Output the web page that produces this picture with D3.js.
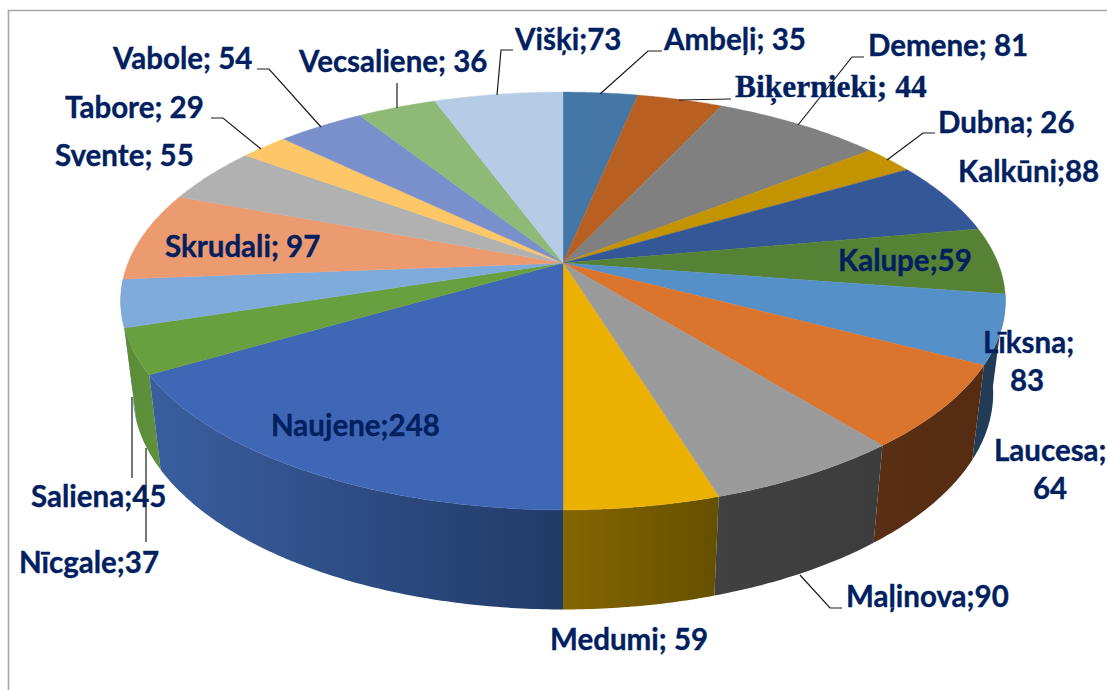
<!DOCTYPE html>
<html><head><meta charset="utf-8">
<style>html,body{margin:0;padding:0;background:#fff;overflow:hidden}svg{display:block}</style>
<script src="https://cdnjs.cloudflare.com/ajax/libs/d3/7.8.5/d3.min.js"></script>
</head><body>
<svg id="c" width="1107" height="690"></svg>
<script>
const names = ["Ambeļi","Biķernieki","Demene","Dubna","Kalkūni","Kalupe","Līksna","Laucesa","Maļinova","Medumi","Naujene","Nīcgale","Saliena","Skrudali","Svente","Tabore","Vabole","Vecsaliene","Višķi"];
// Numbers printed on the labels.
const printedValues = [35,44,81,26,88,59,83,64,90,59,248,37,45,97,55,29,54,36,73];
// The drawn slices do not follow the printed numbers: sizes, in degrees.
const sliceDegrees = [11.7,13.4,26.6,8,20.3,18.6,19,23.3,21.9,17.2,59.8,12.5,13.2,24.8,15.8,7.6,13.7,12.4,20.2];
const topColors = ["#4577a6","#b86022","#808080","#c49300","#345797","#568235","#5590c8","#db742c","#9b9b9b","#ebb100","#3f67b6","#68a040","#7fabdb","#ec9a70","#b1b1b1","#fdc666","#7a90cd","#8eb976","#b5cbe6"];
const wallFrom = {6:"#223c55",7:"#5a2f13",8:"#414141",9:"#856600",10:"#3a5f9f",11:"#5b8c38",12:"#6f97c4"};
const wallTo   = {6:"#223c55",7:"#552c12",8:"#3c3c3c",9:"#655000",10:"#213a68",11:"#5f903a",12:"#6f97c4"};

// Label layout: index of the slice, separator, x, baseline, anchor, family
const sep = (i,s)=>names[i]+s+printedValues[i];
const labelLayout = [
 [sep(0,"; "),664,50],[sep(1,"; "),735,97,"start","serif"],[sep(2,"; "),868,56],[sep(3,"; "),938,133],
 [sep(4,";"),958,182],[sep(5,";"),838,271],[names[6]+";",983,353],[""+printedValues[6],1027,391,"middle"],[names[7]+";",994,461],[""+printedValues[7],1050,499,"middle"],
 [sep(8,";"),846,607],[sep(9,"; "),550,650],[sep(10,";"),271,436],[sep(11,";"),19,573],[sep(12,";"),31,507],
 [sep(13,"; "),165,257],[sep(14,"; "),55,166],[sep(15,"; "),65,118],[sep(16,"; "),113,69],[sep(17,"; "),299,72],[sep(18,";"),515,50]];
const leaderLayout = [
 [[257,69],[269,69],[321,127]],[[211,118],[223,118],[261,149]],[[513,50],[501,50],[497,95]],[[397,83],[397,108]],
 [[662,51],[648,51],[600,94]],[[731,99],[679,100]],[[864,57],[852,57],[798,125]],[[935,133],[923,133],[887,160]],
 [[132,397],[132,478]],[[146,448],[146,542]],[[842,608],[830,608],[800,575]]];

// Perspective projection of the pie disc: top face and bottom face
const persp = 0.1818;
const topFace    = {cy:263, sx:435, sy:202};
const bottomFace = {cy:354, sx:423, sy:209};
const cx = 563;
function project(face, a){
  const u = Math.sin(a), v = -Math.cos(a), w = 1 - persp*v;
  return [cx + face.sx*u/w, face.cy + face.sy*v/w];
}
function arcPts(face,a0,a1){
  const n = Math.max(2,Math.ceil((a1-a0)/0.01));
  return d3.range(n+1).map(i=>project(face,a0+(a1-a0)*i/n));
}
const line = d3.line();
const svg = d3.select("#c");
const defs = svg.append("defs");
const arcs = d3.pie().sort(null).value(d=>d)(sliceDegrees);

// frame
svg.append("path").attr("d","M8.5,690V10.5H1107").attr("fill","none").attr("stroke","#a6a6a6").attr("stroke-width",1.6);

// side walls (front half only)
const visible = [12,6,7,8,9,11,10];
visible.forEach(i=>{
  const g = defs.append("linearGradient").attr("id","w"+i);
  g.append("stop").attr("offset",0).attr("stop-color",wallFrom[i]);
  g.append("stop").attr("offset",1).attr("stop-color",wallTo[i]);
  const d = arcs[i];
  const pts = arcPts(topFace,d.startAngle,d.endAngle).concat(arcPts(bottomFace,d.startAngle,d.endAngle).reverse());
  svg.append("path").attr("d",line(pts)+"Z").attr("fill",`url(#w${i})`);
});

// top face
arcs.forEach((d,i)=>{
  const pts = [[cx,topFace.cy]].concat(arcPts(topFace,d.startAngle,d.endAngle));
  svg.append("path").attr("d",line(pts)+"Z").attr("fill",topColors[i]).attr("stroke",topColors[i]).attr("stroke-width",0.4);
});

// leader lines
svg.append("g").attr("fill","none").attr("stroke","#1a1a1a").attr("stroke-width",1.2)
  .selectAll("path").data(leaderLayout).join("path").attr("d",d=>line(d));

// labels
svg.append("g").selectAll("text").data(labelLayout).join("text")
  .attr("x",d=>d[1]).attr("y",d=>d[2]).attr("text-anchor",d=>d[3]||"start")
  .attr("font-family",d=>d[4]==="serif"?"'Liberation Serif',serif":"Lato,'Open Sans',sans-serif")
  .attr("font-weight",700).attr("font-size",d=>d[4]==="serif"?31.5:29.5)
  .attr("stroke","#002060").attr("stroke-width",0.35)
  .attr("fill","#002060").text(d=>d[0]);
</script>
</body></html>
